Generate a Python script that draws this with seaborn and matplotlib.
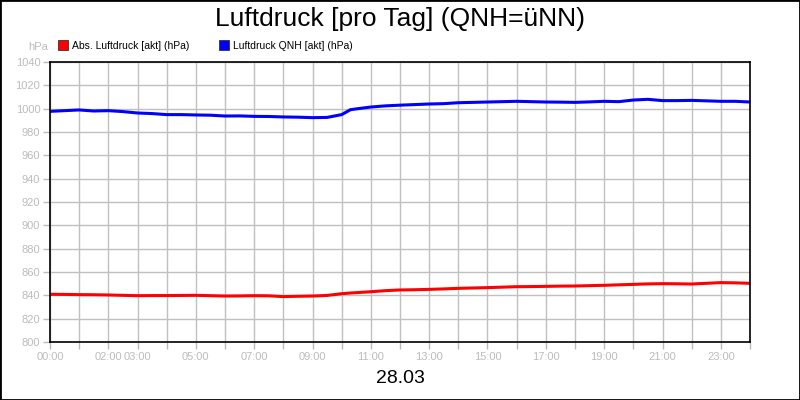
import matplotlib
matplotlib.use("Agg")
import matplotlib.pyplot as plt
import seaborn as sns
import pandas as pd
from matplotlib.patches import Rectangle
from matplotlib.lines import Line2D
from matplotlib.ticker import FixedLocator, FixedFormatter

# Data (half-hourly, hours since 00:00)
hours = [0, 0.5, 1, 1.5, 2, 2.5, 3, 3.5, 4, 4.5, 5, 5.5, 6, 6.5, 7, 7.5, 8, 8.5,
         9, 9.5, 10, 10.3, 10.5, 11, 11.5, 12, 12.5, 13, 13.5, 14, 14.5, 15, 15.5,
         16, 16.5, 17, 17.5, 18, 18.5, 19, 19.5, 20, 20.5, 21, 21.5, 22, 22.5, 23,
         23.5, 24]
qnh = [997.7, 998.3, 998.9, 998.0, 998.3, 997.5, 996.3, 995.8, 994.9, 994.9, 994.6,
       994.4, 993.7, 993.8, 993.4, 993.3, 992.9, 992.7, 992.3, 992.5, 994.9, 999.1,
       999.8, 1001.4, 1002.4, 1003.0, 1003.5, 1004.0, 1004.3, 1005.1, 1005.4, 1005.7,
       1006.0, 1006.3, 1006.0, 1005.7, 1005.6, 1005.4, 1005.8, 1006.3, 1006.0, 1007.4,
       1008.0, 1006.9, 1006.9, 1007.1, 1006.7, 1006.3, 1006.3, 1005.7]
abs_p = [840.9, 840.8, 840.6, 840.5, 840.3, 840.0, 839.7, 839.8, 839.8, 839.9, 840.0,
         839.7, 839.4, 839.5, 839.7, 839.6, 838.9, 839.2, 839.4, 839.9, 841.4, 842.0,
         842.3, 843.1, 844.0, 844.6, 844.8, 845.1, 845.5, 846.0, 846.3, 846.6, 847.0,
         847.4, 847.5, 847.7, 847.9, 848.0, 848.3, 848.6, 849.0, 849.4, 849.8, 850.0,
         849.9, 849.7, 850.3, 850.9, 850.7, 850.3]

series_names = ["Abs. Luftdruck [akt] (hPa)", "Luftdruck QNH [akt] (hPa)"]
series_colors = ["#ff0000", "#0000ff"]

tick_hours = list(range(25))
tick_text = {0: "00:00", 2: "02:00", 3: "03:00", 5: "05:00", 7: "07:00", 9: "09:00",
             11: "11:00", 13: "13:00", 15: "15:00", 17: "17:00", 19: "19:00",
             21: "21:00", 23: "23:00"}

df = pd.concat([
    pd.DataFrame({"h": hours, "p": abs_p, "series": series_names[0]}),
    pd.DataFrame({"h": hours, "p": qnh, "series": series_names[1]}),
])

sns.set_style("white")
plt.rcParams["font.family"] = ["Liberation Sans", "DejaVu Sans"]
plt.rcParams["text.color"] = "black"

fig = plt.figure(figsize=(8, 4), dpi=100)
ax = fig.add_axes([0.0625, 0.145, 0.875, 0.7])

sns.lineplot(data=df, x="h", y="p", hue="series", hue_order=series_names,
             palette=series_colors, linewidth=2.2, legend=False, ax=ax)

grey = "#bcbcbc"
ax.set_xlim(0, 24)
ax.set_ylim(800, 1040)
ax.set_yticks(range(800, 1041, 20))
ax.xaxis.set_major_locator(FixedLocator(tick_hours))
ax.xaxis.set_major_formatter(FixedFormatter([tick_text.get(h, "") for h in tick_hours]))
ax.grid(True, color="#c0c0c0", linewidth=1)
ax.tick_params(axis="both", colors=grey, labelsize=8, length=5, width=1, direction="out")
ax.tick_params(axis="x", bottom=True, pad=2)
ax.tick_params(axis="y", left=True, pad=2)
ax.set_xlabel("")
ax.set_ylabel("")
for s in ax.spines.values():
    s.set_color("black")
    s.set_linewidth(1.2)

fig.text(0.5, 0.952, "Luftdruck [pro Tag] (QNH=üNN)", ha="center", va="center",
         fontsize=19, color="black")
fig.text(0.5, 0.053, "28.03", ha="center", va="center", fontsize=14, color="black")
fig.text(0.048, 0.882, "hPa", ha="center", va="center", fontsize=8, color=grey)

handles = [Line2D([], [], marker="s", linestyle="none", markersize=7,
                  markerfacecolor=c, markeredgecolor="#333333", markeredgewidth=0.6)
           for c in series_colors]
fig.legend(handles, series_names, loc="center left", bbox_to_anchor=(0.066, 0.886),
           ncol=2, frameon=False, fontsize=7.5, handletextpad=0.2, columnspacing=2.8,
           handlelength=1.2, borderaxespad=0, labelcolor="black")

fig.patches.append(Rectangle((0, 0), 1, 1, transform=fig.transFigure, fill=False,
                             edgecolor="black", linewidth=2))

fig.savefig("out.png", dpi=100)
